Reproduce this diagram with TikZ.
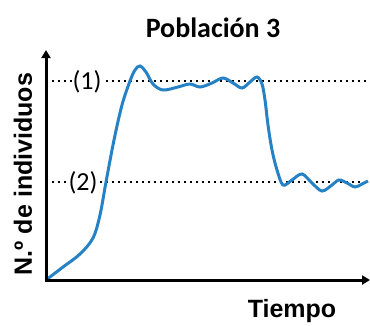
\documentclass[tikz,border=0pt]{standalone}
\usepackage{fontspec}
\setmainfont{Carlito}
\newfontfamily\arialfont{Liberation Sans}
\usetikzlibrary{arrows.meta, positioning}
\definecolor{curveblue}{RGB}{38,130,196}
\tikzset{axisline/.style={draw=black, line width=3pt, -{Triangle[length=8pt,width=9pt]}}}
\tikzstyle{levelline} = [line width=2.4pt, dash pattern=on 2.4pt off 3.6pt]
\tikzstyle{levellabel} = [fill=white, inner sep=0.5pt,
font=\fontsize{26}{26}\selectfont]
\tikzstyle{axislabel} = [font=\arialfont\bfseries\fontsize{25}{25}\selectfont]
\tikzstyle{population} = [curveblue, line width=3pt, smooth, tension=0.55]

\begin{document}
\begin{tikzpicture}[x=1pt, y=-1pt]
    \useasboundingbox (0,0) rectangle (370,325);
    \coordinate (corner) at (46,280);
    \coordinate (ytop) at (46,50);
    \coordinate (xend) at (370,280);
    \coordinate (lvl1a) at (46,81);
    \coordinate (lvl1b) at (370,81);
    \coordinate (lvl2a) at (46,182);
    \coordinate (lvl2b) at (370,182);

    \draw [levelline] (lvl1a) -- (lvl1b);
    \draw [levelline] (lvl2a) -- (lvl2b);
    \node (lab1) [levellabel] at (87,82) {(1)};
    \node (lab2) [levellabel] at (83,183) {(2)};

    \draw [population] plot coordinates {
        (46,280) (63,267) (80,254) (93,238) (100,215) (106,182)
        (114,140) (122,105) (130,81) (135,70) (140,66) (146,72)
        (153,84) (163,90) (178,87) (190,84) (200,87) (212,83)
        (223,78) (233,83) (242,88) (250,82) (257,77) (262,84)
        (265,100) (268,125) (272,150) (277,170) (283,185) (292,180)
        (302,174) (312,183) (322,191) (332,185) (339,180) (347,183)
        (355,187) (362,184) (368,181)};

    % axes
    \draw [axisline] ([yshift=-1.5pt]corner) -- (ytop);
    \draw [axisline] ([xshift=-1.5pt]corner) -- (xend);

    \node (title) at (213,28)
        {\fontsize{28}{28}\selectfont\bfseries Población 3};
    \node (ylabel) [axislabel, rotate=90] at (23,174) {N.º de individuos};
    \node (xlabel) [axislabel] at (292,311) {Tiempo};
\end{tikzpicture}
\end{document}
